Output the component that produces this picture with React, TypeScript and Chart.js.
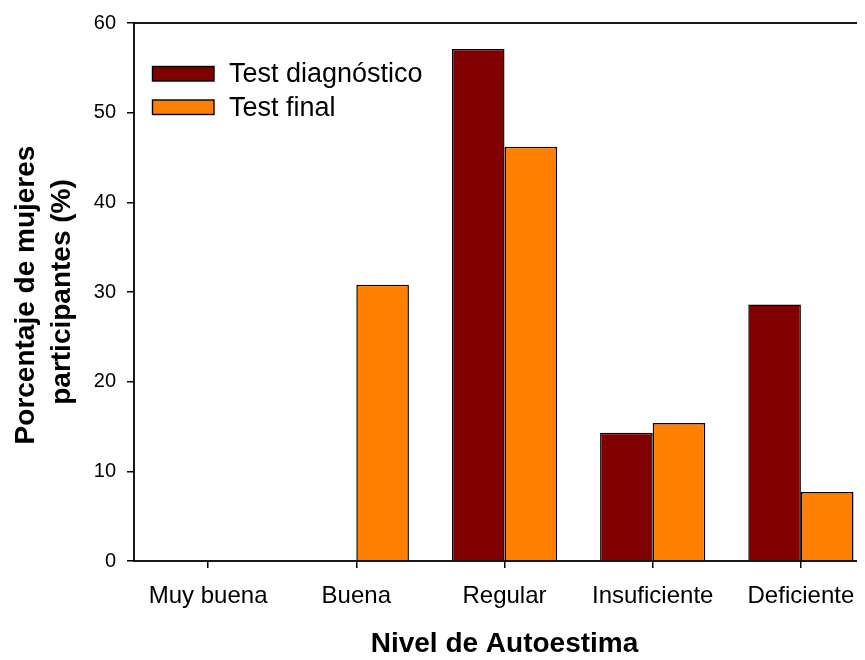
import React, { useEffect, useRef } from 'react';
import { Chart, registerables } from 'chart.js';

Chart.register(...registerables);

const categories = ['Muy buena', 'Buena', 'Regular', 'Insuficiente', 'Deficiente'];
const diagnostico = [0, 0, 57.1, 14.3, 28.6];
const finalTest = [0, 30.8, 46.2, 15.4, 7.7];
const seriesLabels = ['Test diagnóstico', 'Test final'];
const seriesColors = ['#800000', '#FF8000'];
const yMin = 0;
const yMax = 60;
const yStep = 10;
const xTitle = 'Nivel de Autoestima';
const yTitleLines = ['Porcentaje de mujeres', 'participantes (%)'];

const FONT = "'Liberation Sans', Arial, Helvetica, sans-serif";

const decorPlugin = {
  id: 'decor',
  afterDraw(chart: any) {
    const { ctx, chartArea } = chart;
    const { left, top, right, bottom } = chartArea;
    ctx.save();
    // frame
    ctx.strokeStyle = '#000';
    ctx.lineWidth = 1.8;
    ctx.strokeRect(left, top, right - left, bottom - top);

    // legend
    const ds = chart.data.datasets;
    const boxX = left + 18.5;
    const boxW = 61.5;
    const boxH = 14.5;
    const rows = [66.5, 100];
    const baselines = [82.3, 116];
    ds.forEach((d: any, i: number) => {
      ctx.fillStyle = d.backgroundColor;
      ctx.fillRect(boxX, rows[i], boxW, boxH);
      ctx.lineWidth = 1.4;
      ctx.strokeStyle = '#000';
      ctx.strokeRect(boxX, rows[i], boxW, boxH);
      ctx.fillStyle = '#000';
      ctx.font = `27px ${FONT}`;
      ctx.textAlign = 'left';
      ctx.textBaseline = 'alphabetic';
      ctx.fillText(d.label, left + 95, baselines[i]);
    });

    // x title
    ctx.font = `bold 28px ${FONT}`;
    ctx.textAlign = 'center';
    ctx.textBaseline = 'alphabetic';
    ctx.fillStyle = '#000';
    ctx.fillText(xTitle, (left + right) / 2, 652);

    // y title (two lines)
    const yPos = [
      { x: 33.5, y: 295 },
      { x: 70, y: 292 },
    ];
    yTitleLines.forEach((line, i) => {
      ctx.save();
      ctx.translate(yPos[i].x, yPos[i].y);
      ctx.rotate(-Math.PI / 2);
      ctx.fillText(line, 0, 0);
      ctx.restore();
    });
    ctx.restore();
  },
};

export default function App() {
  const canvasRef = useRef<HTMLCanvasElement | null>(null);

  useEffect(() => {
    if (!canvasRef.current) return;
    const chart = new Chart(canvasRef.current, {
      type: 'bar',
      data: {
        labels: categories,
        datasets: [
          {
            label: seriesLabels[0],
            data: diagnostico,
            backgroundColor: seriesColors[0],
            borderColor: '#000',
            borderWidth: 1.5,
            barPercentage: 1,
            categoryPercentage: 0.71,
          },
          {
            label: seriesLabels[1],
            data: finalTest,
            backgroundColor: seriesColors[1],
            borderColor: '#000',
            borderWidth: 1.5,
            barPercentage: 1,
            categoryPercentage: 0.71,
          },
        ],
      },
      options: {
        responsive: false,
        animation: false,
        devicePixelRatio: 1,
        layout: { padding: { top: 23, right: 5, left: 0, bottom: 0 } },
        plugins: {
          legend: { display: false },
          tooltip: { enabled: false },
          title: { display: false },
        },
        scales: {
          x: {
            type: 'category',
            offset: true,
            border: { display: false },
            grid: {
              display: true,
              offset: false,
              drawOnChartArea: false,
              drawTicks: true,
              tickLength: 7,
              color: '#000',
              lineWidth: 1.5,
            },
            ticks: {
              color: '#000',
              font: { family: FONT, size: 24 },
              padding: 14,
              maxRotation: 0,
              minRotation: 0,
              autoSkip: false,
            },
            afterFit: (scale: any) => {
              scale.height = 99;
            },
          },
          y: {
            min: yMin,
            max: yMax,
            border: { display: false },
            grid: {
              display: true,
              drawOnChartArea: false,
              drawTicks: true,
              tickLength: 7,
              color: '#000',
              lineWidth: 1.5,
            },
            ticks: {
              stepSize: yStep,
              color: '#000',
              font: { family: FONT, size: 20 },
              padding: 11,
            },
            afterFit: (scale: any) => {
              scale.width = 134;
            },
          },
        },
      },
      plugins: [decorPlugin],
    });
    return () => chart.destroy();
  }, []);

  return (
    <div
      style={{
        margin: '-8px',
        width: 865,
        height: 660,
        overflow: 'hidden',
        position: 'relative',
        background: '#fff',
      }}
    >
      <canvas ref={canvasRef} width={880} height={660} style={{ display: 'block' }} />
    </div>
  );
}
